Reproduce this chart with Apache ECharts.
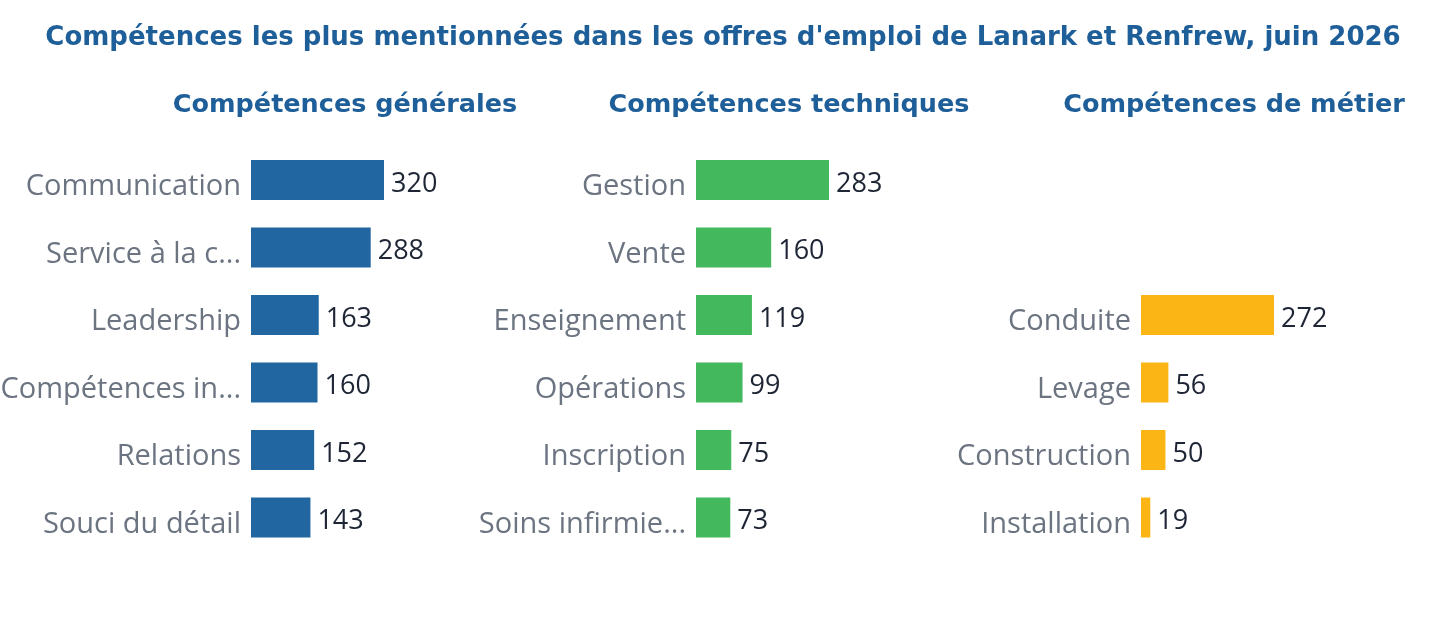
<!DOCTYPE html>
<html>
<head>
<meta charset="utf-8">
<script src="https://cdn.jsdelivr.net/npm/echarts@6/dist/echarts.min.js"></script>
<style>
html,body{margin:0;padding:0;background:#fff;}
#chart{width:1435px;height:634px;}
</style>
</head>
<body>
<div id="chart"></div>
<script>
const mainTitle = "Compétences les plus mentionnées dans les offres d'emploi de Lanark et Renfrew, juin 2026";
const panelTitles = ["Compétences générales", "Compétences techniques", "Compétences de métier"];

const generalCats = ["Communication", "Service à la c...", "Leadership", "Compétences in...", "Relations", "Souci du détail"];
const generalVals = [320, 288, 163, 160, 152, 143];

const techCats = ["Gestion", "Vente", "Enseignement", "Opérations", "Inscription", "Soins infirmie..."];
const techVals = [283, 160, 119, 99, 75, 73];

const metierCats = ["Conduite", "Levage", "Construction", "Installation"];
const metierVals = [272, 56, 50, 19];

const colors = ["#2166a1", "#43b85d", "#fbb615"];

const slots = 6;
function pad(arr, fill) {
  const out = [];
  for (let i = 0; i < slots - arr.length; i++) out.push(fill === null ? null : " ".repeat(i));
  return out.concat(arr);
}

const panels = [
  { cats: generalCats, vals: generalVals },
  { cats: techCats, vals: techVals },
  { cats: metierCats, vals: metierVals }
];

const gridLefts = [251, 696, 1141];
const titleCenters = [345, 789, 1234];

const titleFont = "'DejaVu Sans', 'Noto Sans', sans-serif";
const titles = [{
  text: mainTitle, left: 723, top: 25, textAlign: 'center', padding: 0,
  textStyle: { fontFamily: titleFont, fontWeight: 'bold', fontSize: 26, color: '#1f5f99' }
}];
panelTitles.forEach((t, i) => titles.push({
  text: t, left: titleCenters[i], top: 92, textAlign: 'center', padding: 0,
  textStyle: { fontFamily: titleFont, fontWeight: 'bold', fontSize: 25.5, color: '#1f5f99' }
}));

const grids = [], xAxes = [], yAxes = [], series = [];
panels.forEach((p, i) => {
  grids.push({ left: gridLefts[i], width: 133, top: 146.25, height: 405, containLabel: false, outerBoundsMode: 'none' });
  xAxes.push({ type: 'value', gridIndex: i, min: 0, max: 'dataMax', show: false });
  yAxes.push({
    type: 'category', gridIndex: i, inverse: true,
    data: pad(p.cats, 'str'),
    axisLine: { show: false }, axisTick: { show: false }, splitLine: { show: false },
    axisLabel: { margin: 10, verticalAlign: 'top', lineHeight: 14, fontFamily: "'Open Sans', sans-serif", fontSize: 29, color: '#6b7480' }
  });
  series.push({
    type: 'bar', xAxisIndex: i, yAxisIndex: i,
    data: pad(p.vals, null),
    barWidth: 40,
    itemStyle: { color: colors[i] },
    label: { show: true, position: 'right', distance: 7, verticalAlign: 'top', lineHeight: 8, fontFamily: "'Open Sans', sans-serif", fontSize: 27, color: '#1e2535' },
    animation: false
  });
});

const chart = echarts.init(document.getElementById('chart'), null, { renderer: 'canvas' });
chart.setOption({
  animation: false,
  backgroundColor: '#ffffff',
  title: titles,
  grid: grids,
  xAxis: xAxes,
  yAxis: yAxes,
  series: series
});
</script>
</body>
</html>
